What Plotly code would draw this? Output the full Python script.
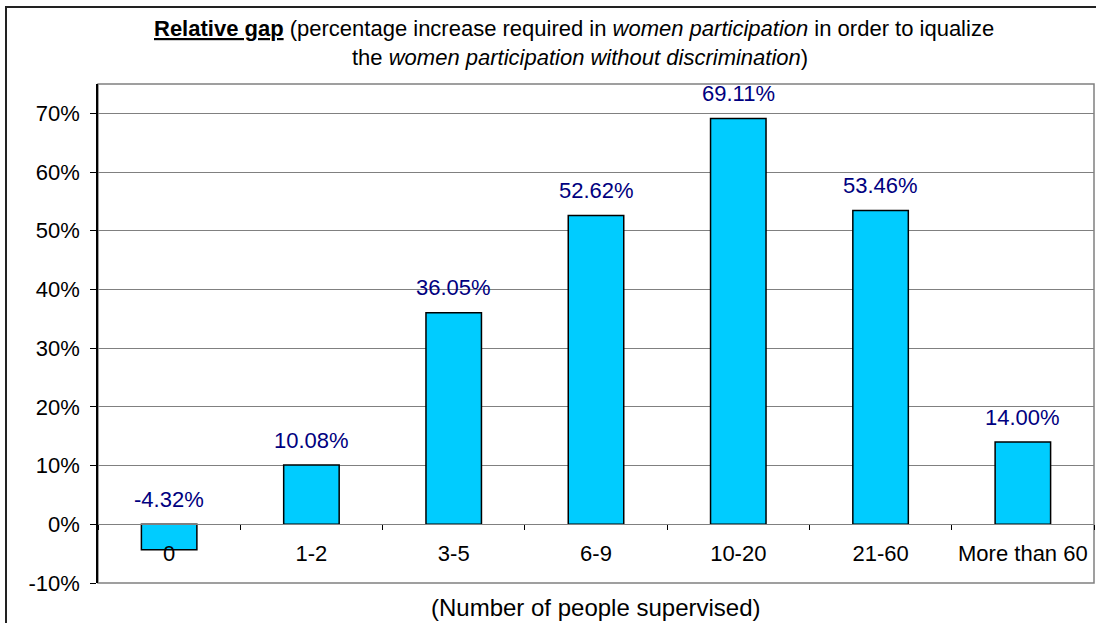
import plotly.graph_objects as go

# Relative gap by number of people supervised
categories = ["0", "1-2", "3-5", "6-9", "10-20", "21-60", "More than 60"]
relative_gap = [-0.0432, 0.1008, 0.3605, 0.5262, 0.6911, 0.5346, 0.1400]
value_labels = ["-4.32%", "10.08%", "36.05%", "52.62%", "69.11%", "53.46%", "14.00%"]
y_ticks = [-0.1, 0.0, 0.1, 0.2, 0.3, 0.4, 0.5, 0.6, 0.7]
y_tick_text = ["-10%", "0%", "10%", "20%", "30%", "40%", "50%", "60%", "70%"]

Y_MIN, Y_MAX = -0.10, 0.75
FONT = "Arial, Liberation Sans, sans-serif"
FS = 22
GRID = "#808080"

fig = go.Figure()

fig.add_trace(go.Bar(
    x=categories,
    y=relative_gap,
    width=0.39,
    marker=dict(color="#00CCFF", line=dict(color="#000000", width=1.5)),
    hoverinfo="skip",
    showlegend=False,
))

# value labels sit above the bar top (or above the zero line for negative bars)
for cat, val, txt in zip(categories, relative_gap, value_labels):
    fig.add_annotation(
        x=cat, y=max(val, 0.0), xref="x", yref="y",
        text=txt, showarrow=False, yanchor="middle", yshift=25,
        font=dict(family=FONT, size=FS, color="#000080"),
    )

# x axis crosses the value axis at zero
zero_pos = (0.0 - Y_MIN) / (Y_MAX - Y_MIN)

fig.update_layout(
    width=1096, height=623,
    margin=dict(l=98, r=2, t=84, b=40),
    paper_bgcolor="white", plot_bgcolor="white",
    font=dict(family=FONT, size=FS, color="#000000"),
    bargap=0.61,
    xaxis=dict(
        type="category",
        anchor="free", position=zero_pos,
        showline=True, linecolor=GRID, linewidth=1,
        ticks="outside", tickson="boundaries", ticklen=5, tickcolor="#000000",
        ticklabelstandoff=9,
        showgrid=False, zeroline=False,
        tickfont=dict(family=FONT, size=FS, color="#000000"),
    ),
    yaxis=dict(
        range=[Y_MIN, Y_MAX],
        tickvals=y_ticks, ticktext=y_tick_text,
        showgrid=True, gridcolor=GRID, gridwidth=1,
        zeroline=False,
        showline=True, linecolor="#000000", linewidth=1.5,
        ticks="outside", ticklen=6, tickcolor="#000000",
        ticklabelstandoff=6,
        tickfont=dict(family=FONT, size=FS, color="#000000"),
    ),
)

# plot area frame
fig.add_shape(type="rect", xref="paper", yref="paper", x0=0, y0=0, x1=1, y1=1,
              line=dict(color=GRID, width=1.5), layer="below")
# chart area frame
fig.add_shape(type="rect", xref="paper", yref="paper",
              x0=(6 - 98) / 996, y0=-0.2, x1=1.2, y1=(583 - 7) / 499,
              line=dict(color="#222222", width=2), layer="below")

# two-line chart title
fig.add_annotation(
    xref="paper", yref="paper", x=(574 - 98) / 996, y=(583 - 28) / 499,
    text="<b><u>Relative gap</u></b> (percentage increase required in "
         "<i>women participation</i> in order to iqualize",
    showarrow=False, xanchor="center", yanchor="middle",
    font=dict(family=FONT, size=FS, color="#000000"),
)
fig.add_annotation(
    xref="paper", yref="paper", x=(580 - 98) / 996, y=(583 - 57) / 499,
    text="the <i>women participation without discrimination</i>)",
    showarrow=False, xanchor="center", yanchor="middle",
    font=dict(family=FONT, size=FS, color="#000000"),
)

# category axis title
fig.add_annotation(
    xref="paper", yref="paper", x=0.5, y=(583 - 607) / 499,
    text="(Number of people supervised)",
    showarrow=False, xanchor="center", yanchor="middle",
    font=dict(family=FONT, size=24, color="#000000"),
)

fig.write_html("out.html")
